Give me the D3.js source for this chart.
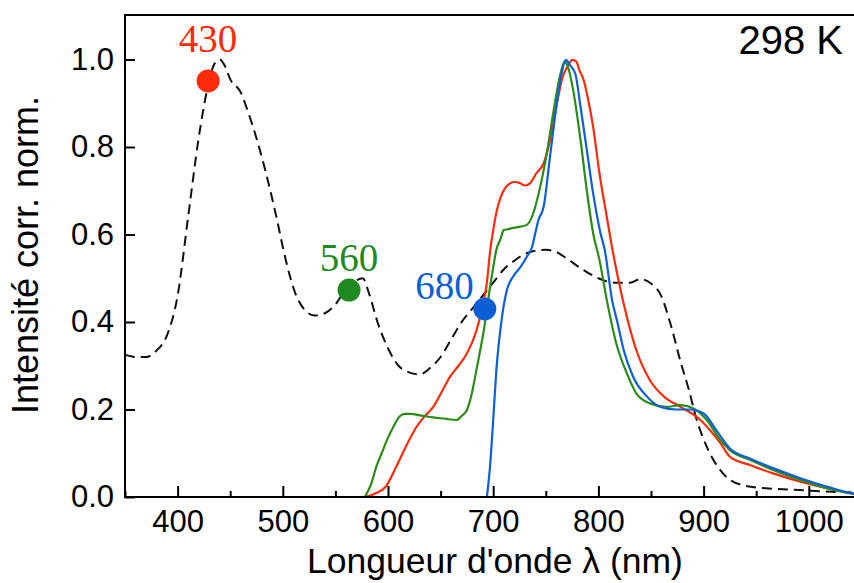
<!DOCTYPE html>
<html><head><meta charset="utf-8">
<script src="https://cdn.jsdelivr.net/npm/d3@7"></script>
<style>
html,body{margin:0;padding:0;background:#fff;}
svg{display:block;}
</style></head>
<body><svg id="c" width="854" height="583"></svg>
<script>
// ---- data ----
const xTicks = [400, 500, 600, 700, 800, 900, 1000];
const xMinorTicks = [350, 450, 550, 650, 750, 850, 950, 1050];
const yTicks = [0.0, 0.2, 0.4, 0.6, 0.8, 1.0];

// excitation spectrum (dashed)
const excLambda = [350,360,370,380,390,400,410,420,428,435,440,445,450,460,467,475,483,493,503,512,520,530,540,550,560,570,576,582,590,600,610,620,630,640,650,660,670,680,690,700,710,720,735,750,760,770,785,800,815,830,840,850,860,868,878,886,893,903,918,937,959,991,1022,1050];
const excValue  = [0.325,0.32,0.32,0.335,0.37,0.46,0.64,0.82,0.93,0.99,1.0,0.985,0.955,0.925,0.88,0.82,0.75,0.65,0.54,0.465,0.43,0.415,0.42,0.44,0.475,0.495,0.50,0.465,0.40,0.34,0.30,0.285,0.28,0.295,0.32,0.36,0.40,0.43,0.46,0.49,0.52,0.54,0.56,0.565,0.56,0.545,0.52,0.50,0.49,0.49,0.498,0.488,0.458,0.40,0.31,0.245,0.18,0.115,0.055,0.027,0.02,0.016,0.012,0.01];

// emission, excitation 430 nm (red)
const em430Lambda = [550,575,588,598,608,618,627,635,643,651,659,667,675,684,689,694,697,700,703,707,711,716,720,725,730,735,741,748,754,760,766,771,775,779,782,786,789,795,801,808,814,820,827,836,849,862,878,897,906,916,925,944,966,992,1017,1042,1050];
const em430Value  = [0.0,0.0,0.008,0.024,0.07,0.12,0.16,0.185,0.206,0.24,0.275,0.30,0.328,0.38,0.427,0.49,0.56,0.61,0.65,0.685,0.705,0.717,0.72,0.718,0.712,0.717,0.74,0.763,0.816,0.892,0.96,0.985,0.999,0.995,0.975,0.953,0.923,0.846,0.74,0.64,0.557,0.485,0.412,0.336,0.267,0.23,0.206,0.176,0.153,0.123,0.092,0.073,0.054,0.035,0.02,0.008,0.005];

// emission, excitation 560 nm (green)
const em560Lambda = [578,584,589,594,599,605,611,616,621,632,643,654,665,670,675,680,684,688,691,694,697,700,703,707,710,714,719,726,732,738,744,751,757,764,768,771,776,783,789,795,801,808,817,827,836,849,865,878,890,903,916,925,944,966,992,1017,1042,1050];
const em560Value  = [0.0,0.03,0.07,0.10,0.13,0.16,0.184,0.19,0.19,0.186,0.182,0.179,0.176,0.185,0.199,0.24,0.29,0.34,0.38,0.43,0.48,0.525,0.565,0.59,0.61,0.612,0.615,0.618,0.622,0.648,0.702,0.786,0.877,0.968,0.995,0.983,0.93,0.816,0.70,0.603,0.542,0.45,0.351,0.283,0.237,0.214,0.206,0.21,0.203,0.176,0.13,0.107,0.085,0.062,0.039,0.02,0.007,0.004];

// emission, excitation 680 nm (blue)
const em680Lambda = [694,697,700,703,708,713,719,726,732,737,740,743,748,754,760,765,769,773,778,783,789,795,802,806,813,818,824,833,846,859,874,887,900,912,925,944,966,992,1017,1042,1050];
const em680Value  = [0.0,0.07,0.176,0.29,0.405,0.473,0.504,0.526,0.549,0.572,0.603,0.633,0.664,0.778,0.892,0.968,0.999,0.987,0.968,0.892,0.793,0.694,0.603,0.565,0.45,0.40,0.336,0.275,0.23,0.206,0.2,0.2,0.191,0.153,0.111,0.088,0.066,0.043,0.024,0.008,0.005];

// excitation markers
const markerLabels = ["430", "560", "680"];
const markerLambda = [429, 563, 692];
const markerValue  = [0.951, 0.473, 0.43];
const markerColors = ["#ff2a0a", "#1f8a1f", "#0b5fd6"];
const lineColors   = ["#ff2a0a", "#2a8c16", "#0d5fd8"];

// ---- layout ----
const svg = d3.select("#c");
const x = d3.scaleLinear().domain([350, 1050]).range([125, 861.4]);
const y = d3.scaleLinear().domain([0, 1.1]).range([497, 15.75]);

const g = svg.append("g");

svg.append("defs").append("clipPath").attr("id","plotclip")
  .append("rect").attr("x",125).attr("y",15).attr("width",740).attr("height",484);

const line = d3.line().x(d => x(d[0])).y(d => y(d[1])).curve(d3.curveMonotoneX);
const plot = g.append("g").attr("clip-path","url(#plotclip)");

plot.append("path").datum(d3.zip(excLambda, excValue))
  .attr("d", line).attr("fill","none").attr("stroke","#111")
  .attr("stroke-width",2).attr("stroke-dasharray","10,6");

const emissions = [[em430Lambda, em430Value],[em560Lambda, em560Value],[em680Lambda, em680Value]];
emissions.forEach((e,i) => {
  plot.append("path").datum(d3.zip(e[0], e[1]))
    .attr("d", line).attr("fill","none").attr("stroke", lineColors[i])
    .attr("stroke-width",2.2).attr("stroke-linejoin","round");
});

// markers
markerLambda.forEach((l,i) => {
  g.append("circle").attr("cx", x(l)).attr("cy", y(markerValue[i])).attr("r", 11.5)
    .attr("fill", markerColors[i]);
});
const labelPos = [[0, -29, "middle"], [0, -19, "middle"], [-11, -10, "end"]];
markerLabels.forEach((t,i) => {
  g.append("text").attr("x", x(markerLambda[i]) + labelPos[i][0])
    .attr("y", y(markerValue[i]) + labelPos[i][1])
    .attr("text-anchor", labelPos[i][2])
    .attr("font-family","'Liberation Serif','Times New Roman',serif")
    .attr("font-size", 39).attr("fill", markerColors[i]).text(t);
});

// axes frame
const axisG = g.append("g");
axisG.append("line").attr("x1",125).attr("x2",125).attr("y1",15).attr("y2",497).attr("stroke","#000").attr("stroke-width",2);
axisG.append("line").attr("x1",124).attr("x2",862).attr("y1",497).attr("y2",497).attr("stroke","#000").attr("stroke-width",2);
axisG.append("line").attr("x1",124).attr("x2",862).attr("y1",15).attr("y2",15).attr("stroke","#000").attr("stroke-width",2);
axisG.append("line").attr("x1",861.4).attr("x2",861.4).attr("y1",15).attr("y2",497).attr("stroke","#000").attr("stroke-width",2);

const font = "'Liberation Sans', Arial, sans-serif";
// x ticks
const xAx = d3.axisBottom(x).tickValues(xTicks).tickSize(-11).tickPadding(13).tickFormat(d3.format("d"));
const xg = g.append("g").attr("transform","translate(0,497)").call(xAx);
xg.select(".domain").remove();
xg.selectAll(".tick line").attr("stroke","#000").attr("stroke-width",2);
xg.selectAll(".tick text").attr("font-family",font).attr("font-size",31).attr("fill","#000");
const xm = d3.axisBottom(x).tickValues(xMinorTicks).tickSize(-6).tickFormat("");
const xmg = g.append("g").attr("transform","translate(0,497)").call(xm);
xmg.select(".domain").remove();
xmg.selectAll(".tick line").attr("stroke","#000").attr("stroke-width",2);

// y ticks
const yAx = d3.axisLeft(y).tickValues(yTicks).tickSize(-10).tickPadding(11).tickFormat(d3.format(".1f"));
const yg = g.append("g").attr("transform","translate(125,0)").call(yAx);
yg.select(".domain").remove();
yg.selectAll(".tick line").attr("stroke","#000").attr("stroke-width",2);
yg.selectAll(".tick text").attr("font-family",font).attr("font-size",31).attr("fill","#000");

// titles
g.append("text").attr("x",495).attr("y",573).attr("text-anchor","middle")
  .attr("font-family",font).attr("font-size",35.5).attr("fill","#000").text("Longueur d'onde λ (nm)");
g.append("text").attr("transform","translate(38,255) rotate(-90)").attr("text-anchor","middle")
  .attr("font-family",font).attr("font-size",36).attr("fill","#000").text("Intensité corr. norm.");
g.append("text").attr("x",843).attr("y",54).attr("text-anchor","end")
  .attr("font-family",font).attr("font-size",40).attr("fill","#000").text("298 K");
</script></body></html>
